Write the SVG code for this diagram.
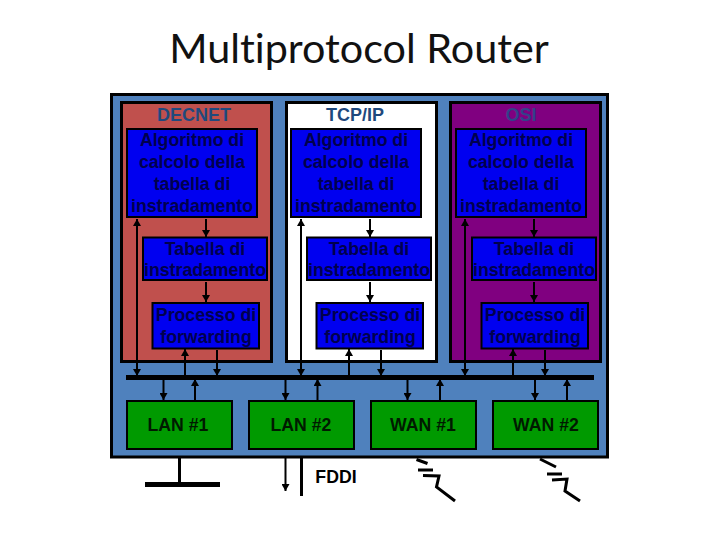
<svg xmlns="http://www.w3.org/2000/svg" xmlns:xlink="http://www.w3.org/1999/xlink" width="720" height="540" viewBox="0 0 720 540">
<style>
text{font-family:"Liberation Sans",Arial,sans-serif;text-anchor:middle}
.title{font-family:Lato,"Open Sans",sans-serif;font-size:41.300px;fill:#111;font-variant-ligatures:none}
.head{font-size:18px;font-weight:bold}
.t{font-size:17.700px;font-weight:bold;fill:#00004d}
.g{font-size:17.700px;font-weight:bold;fill:#001a00}
.panel{stroke:#000;stroke-width:3}
.blue{fill:#0000f0;stroke:#000;stroke-width:2}
.green{fill:#009a00;stroke:#000;stroke-width:2}
.c line,.c path{stroke:#000;stroke-width:2;fill:none}
.thick{stroke-width:3!important}
.heavy{stroke-width:5!important}
</style>
<defs>
<marker id="a" markerUnits="userSpaceOnUse" markerWidth="8" markerHeight="8" refX="7" refY="4" orient="auto-start-reverse"><path d="M0 0L7 4L0 8Z" fill="#000"/></marker>
<g id="stack">
<rect class="blue" x="127" y="129" width="130" height="88"/>
<text class="t" x="192" y="146">Algoritmo di</text>
<text class="t" x="192" y="168">calcolo della</text>
<text class="t" x="192" y="190">tabella di</text>
<text class="t" x="192" y="212">instradamento</text>
<rect class="blue" x="143" y="237.500" width="124" height="42.500"/>
<text class="t" x="205" y="254.500">Tabella di</text>
<text class="t" x="205" y="276">instradamento</text>
<rect class="blue" x="152.500" y="303" width="106.500" height="45.500"/>
<text class="t" x="206" y="321">Processo di</text>
<text class="t" x="206" y="343">forwarding</text>
</g>
</defs>
<text class="title" x="359" y="63">Multiprotocol Router</text>
<g id="router"><rect x="111.500" y="94.500" width="496" height="362.500" fill="#4f81bd" stroke="#000" stroke-width="3"/></g>
<g id="decnet">
<rect class="panel" x="121.500" y="102.500" width="150" height="259" fill="#c0504d"/>
<text class="head" x="194" y="121" fill="#1f497d">DECNET</text>
<use xlink:href="#stack"/>
</g>
<g id="tcpip">
<rect class="panel" x="286.500" y="102.500" width="150" height="259" fill="#fff"/>
<text class="head" x="355" y="121" fill="#1f497d">TCP/IP</text>
<use xlink:href="#stack" x="164"/>
</g>
<g id="osi">
<rect class="panel" x="450.500" y="102.500" width="150" height="259" fill="#800080"/>
<text class="head" x="521" y="121" fill="#33418a">OSI</text>
<use xlink:href="#stack" x="329"/>
</g>
<g id="lan1"><rect class="green" x="127" y="401" width="105" height="48"/><text class="g" x="178" y="431">LAN #1</text></g>
<g id="lan2"><rect class="green" x="249" y="401" width="105" height="48"/><text class="g" x="301" y="431">LAN #2</text></g>
<g id="wan1"><rect class="green" x="371" y="401" width="105" height="48"/><text class="g" x="423" y="431">WAN #1</text></g>
<g id="wan2"><rect class="green" x="493" y="401" width="105" height="48"/><text class="g" x="546" y="431">WAN #2</text></g>
<g id="fddi-label"><text x="336" y="483" font-size="17.700" font-weight="bold" fill="#000">FDDI</text></g>
<g id="connectors" class="c">
<line class="heavy" x1="126" y1="377.500" x2="594" y2="377.500"/>
<line x1="206" y1="219" x2="206" y2="237" marker-end="url(#a)"/>
<line x1="206" y1="282" x2="206" y2="302" marker-end="url(#a)"/>
<line x1="137" y1="219" x2="137" y2="376" marker-start="url(#a)" marker-end="url(#a)"/>
<line x1="185" y1="376" x2="185" y2="349" marker-end="url(#a)"/>
<line x1="217" y1="350" x2="217" y2="376" marker-end="url(#a)"/>
<line x1="370" y1="219" x2="370" y2="237" marker-end="url(#a)"/>
<line x1="370" y1="282" x2="370" y2="302" marker-end="url(#a)"/>
<line x1="301" y1="219" x2="301" y2="376" marker-start="url(#a)" marker-end="url(#a)"/>
<line x1="349" y1="376" x2="349" y2="349" marker-end="url(#a)"/>
<line x1="381" y1="350" x2="381" y2="376" marker-end="url(#a)"/>
<line x1="534" y1="219" x2="534" y2="237" marker-end="url(#a)"/>
<line x1="534" y1="282" x2="534" y2="302" marker-end="url(#a)"/>
<line x1="465" y1="219" x2="465" y2="376" marker-start="url(#a)" marker-end="url(#a)"/>
<line x1="513" y1="376" x2="513" y2="349" marker-end="url(#a)"/>
<line x1="545" y1="350" x2="545" y2="376" marker-end="url(#a)"/>
<line x1="163.500" y1="380" x2="163.500" y2="400" marker-end="url(#a)"/>
<line x1="195" y1="400" x2="195" y2="379" marker-end="url(#a)"/>
<line x1="285.500" y1="380" x2="285.500" y2="400" marker-end="url(#a)"/>
<line x1="317.500" y1="400" x2="317.500" y2="379" marker-end="url(#a)"/>
<line x1="407.500" y1="380" x2="407.500" y2="400" marker-end="url(#a)"/>
<line x1="440" y1="400" x2="440" y2="379" marker-end="url(#a)"/>
<line x1="535" y1="380" x2="535" y2="400" marker-end="url(#a)"/>
<line x1="567" y1="400" x2="567" y2="379" marker-end="url(#a)"/>
<line class="thick" x1="179.500" y1="458" x2="179.500" y2="484"/>
<line class="heavy" x1="145" y1="484.500" x2="220" y2="484.500"/>
<line x1="285.500" y1="458" x2="285.500" y2="491" marker-end="url(#a)"/>
<line class="thick" x1="301.500" y1="458" x2="301.500" y2="496"/>
<path class="thick" d="M416.500 459.500L427.500 463.500M418 470H433M423 475.500L439 476L436.500 487L455 501"/>
<path class="thick" d="M540 459L556 467M547 474H562M552 480L567 479L565 491L580 501"/>
</g>
</svg>
